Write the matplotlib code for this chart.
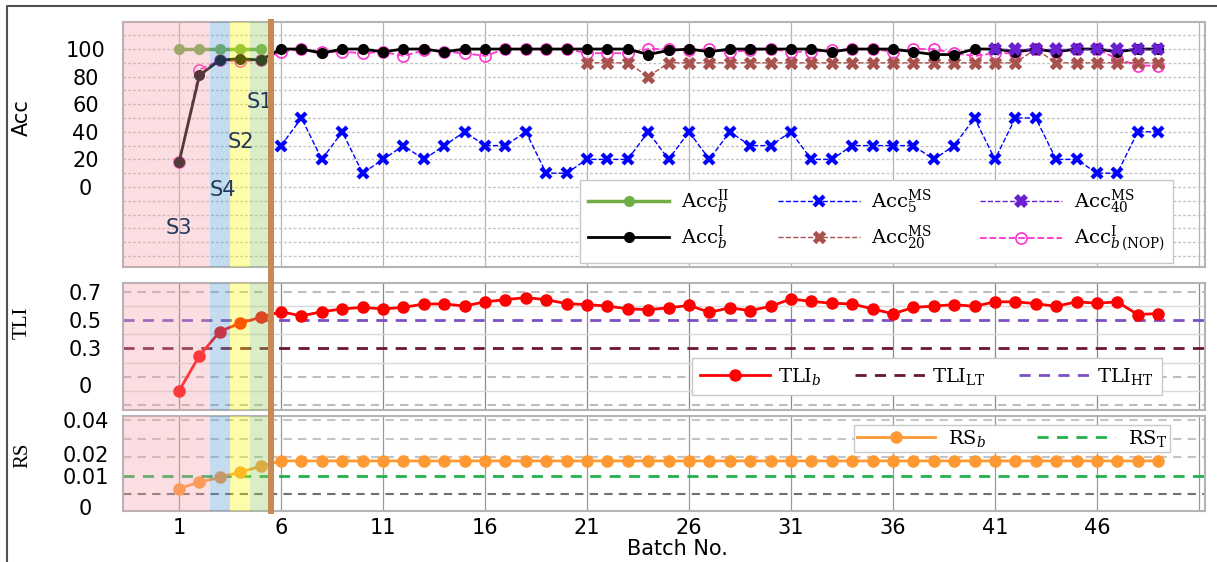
import numpy as np
import matplotlib
matplotlib.use('Agg')
import matplotlib.pyplot as plt
from matplotlib.lines import Line2D

plt.rcParams['font.family'] = 'DejaVu Sans'
plt.rcParams['mathtext.fontset'] = 'dejavuserif'

# ---------------- data ----------------
batch = np.arange(1, 50)                     # batches 1..49

acc_II = [100, 100, 100, 100, 100]           # batches 1..5
acc_I = [18, 81, 92, 93, 92, 100, 100, 97, 100, 100,
         98, 100, 100, 98, 100, 100, 100, 100, 100, 100,
         100, 100, 100, 96, 99, 100, 98, 100, 100, 100,
         100, 100, 98, 100, 100, 100, 98, 96, 96, 100,
         100, 98, 100, 98, 100, 100, 98, 100, 100]
acc_nop = [18, 85, 92, 91, 92, 98, 100, 98, 98, 97,
           98, 95, 99, 98, 97, 95, 100, 100, 100, 100,
           97, 97, 97, 100, 100, 99, 100, 98, 99, 100,
           98, 98, 99, 100, 100, 98, 100, 100, 97, 95,
           97, 97, 100, 98, 100, 100, 93, 88, 88]
acc5 = [30, 50, 20, 40, 10, 20, 30, 20, 30, 40,
        30, 30, 40, 10, 10, 20, 20, 20, 40, 20,
        40, 20, 40, 30, 30, 40, 20, 20, 30, 30,
        30, 30, 20, 30, 50, 20, 50, 50, 20, 20,
        10, 10, 40, 40]                       # batches 6..49
acc20 = [90, 90, 90, 80, 90, 90, 90, 90, 90, 90,
         90, 90, 90, 90, 90, 90, 90, 90, 90, 90,
         90, 90, 100, 90, 90, 90, 90, 90, 90]  # batches 21..49
acc40 = [100, 100, 100, 100, 100, 100, 100, 100, 100]  # batches 41..49

tli = [0.0, 0.25, 0.42, 0.48, 0.52, 0.56, 0.53, 0.56, 0.58, 0.59,
       0.58, 0.59, 0.615, 0.615, 0.60, 0.63, 0.645, 0.66, 0.645, 0.617,
       0.61, 0.60, 0.58, 0.575, 0.587, 0.605, 0.556, 0.587, 0.568, 0.598,
       0.65, 0.633, 0.62, 0.615, 0.58, 0.545, 0.59, 0.60, 0.61, 0.598,
       0.63, 0.63, 0.617, 0.598, 0.63, 0.62, 0.63, 0.54, 0.547]
tli_lt = 0.3
tli_ht = 0.5

rs = [0.003, 0.0065, 0.009, 0.012, 0.015] + [0.018] * 44
rs_t = 0.01

stage_names = ['S1', 'S2', 'S4', 'S3']
xtick_vals = [1, 6, 11, 16, 21, 26, 31, 36, 41, 46]

# ---------------- figure / axes ----------------
W, H = 1217, 562
fig = plt.figure(figsize=(W / 100, H / 100), dpi=100)


def box(l, t, r, b):
    return [l / W, 1 - b / H, (r - l) / W, (b - t) / H]


ax1 = fig.add_axes(box(123, 22, 1205, 267))
ax2 = fig.add_axes(box(123, 283, 1205, 410))
ax3 = fig.add_axes(box(123, 416, 1205, 511))

xmin, xmax = -1.75, 51.3
stages = [(xmin, 2.5, '#f6a1a9'), (2.5, 3.5, '#599bd4'),
          (3.5, 4.5, '#f9f90c'), (4.5, 5.5, '#95cc62')]

for ax, vcol in ((ax1, '#b4b4b4'), (ax2, '#8c8c8c'), (ax3, '#9a9a9a')):
    ax.set_xlim(xmin, xmax)
    for x in range(1, 52, 5):
        ax.axvline(x, color=vcol, lw=0.9, zorder=1)
    for a, b, c in stages:
        ax.axvspan(a, b, color=c, alpha=0.35, lw=0, zorder=6)
    for s in ax.spines.values():
        s.set_color('#b4b4b4')
        s.set_linewidth(1.5)
    ax.tick_params(length=0, labelsize=15)
    ax.tick_params(axis='y', pad=27)

ax1.set_xticks([])
ax2.set_xticks([])
ax3.set_xticks(xtick_vals)
ax3.tick_params(axis='x', pad=5)

# ---------------- Acc panel ----------------
ax1.set_ylim(-58, 119.6)
for v in range(-50, 111, 10):
    ax1.axhline(v, color='#c4c4c4', lw=1, ls=(0, (2, 1.5)), zorder=1)

l_II, = ax1.plot(batch[:5], acc_II, color='#70ad47', lw=2.5, marker='o', ms=7,
                 zorder=3, label=r'Acc$_b^{\mathrm{II}}$')
l_nop, = ax1.plot(batch, acc_nop, color='#ff33cc', lw=1.3, ls='--', marker='o',
                  mfc='none', mec='#ff33cc', ms=8, mew=1.2, zorder=2,
                  label=r'Acc$_{b\,\mathrm{(NOP)}}^{\mathrm{I}}$')
l_I, = ax1.plot(batch, acc_I, color='black', lw=2, marker='o', ms=7, zorder=4,
                label=r'Acc$_b^{\mathrm{I}}$')
l_5, = ax1.plot(batch[5:], acc5, color='#0000ff', lw=1, ls='--', marker='x',
                ms=7, mew=3, zorder=3, label=r'Acc$_5^{\mathrm{MS}}$')
l_20, = ax1.plot(batch[20:], acc20, color='#a8524e', lw=1, ls='--', marker='x',
                 ms=7, mew=3.5, zorder=3, label=r'Acc$_{20}^{\mathrm{MS}}$')
l_40, = ax1.plot(batch[40:], acc40, color='#6a1fd0', lw=1, ls='--', marker='x',
                 ms=7, mew=4, zorder=5, label=r'Acc$_{40}^{\mathrm{MS}}$')

ax1.set_yticks([0, 20, 40, 60, 80, 100])
for t in ax1.get_yticklabels():
    t.set_ha('center')
ax1.set_ylabel('Acc', fontsize=15)
ax1.yaxis.set_label_coords(-0.084, 0.61)

for name, bx, by in zip(stage_names, [4.95, 4.04, 3.15, 1.0], [61.6, 32.6, -2.2, -29.7]):
    ax1.text(bx, by, name, fontsize=15, color='#23395b', ha='center', va='center', zorder=8)

leg1 = ax1.legend(handles=[l_II, l_I, l_5, l_20, l_40, l_nop], ncol=3,
                  loc='lower right', bbox_to_anchor=(0.970, 0.016),
                  borderaxespad=0, prop={'family': 'DejaVu Serif', 'size': 14},
                  handlelength=4.2, handletextpad=0.6, columnspacing=2.5,
                  labelspacing=0.4, borderpad=0.4, fancybox=False,
                  framealpha=1, edgecolor='#c8c8c8')
leg1.set_zorder(20)

# ---------------- TLI panel ----------------
ax2.set_ylim(-0.135, 0.763)
for v in [0.7, 0.1, -0.1]:
    ax2.axhline(v, color='#bdbdbd', lw=1.5, ls=(0, (4, 3)), zorder=1)
for v in [0.6, 0.4, 0.2, 0.0]:
    ax2.axhline(v, color='#dadada', lw=1, zorder=1)
h_lt = ax2.axhline(tli_lt, color='#6b1535', lw=2, ls=(0, (4, 3)), zorder=2,
                   label=r'TLI$_{\mathrm{LT}}$')
h_ht = ax2.axhline(tli_ht, color='#7b4fc4', lw=2, ls=(0, (4, 3)), zorder=2,
                   label=r'TLI$_{\mathrm{HT}}$')
l_tli, = ax2.plot(batch, tli, color='#ff0000', lw=2, marker='o', ms=8, zorder=4,
                  label=r'TLI$_b$')
ax2.set_yticks([0.045, 0.3, 0.5, 0.7])
ax2.set_yticklabels(['0', '0.3', '0.5', '0.7'])
for t in ax2.get_yticklabels():
    t.set_ha('center')
ax2.set_ylabel('TLI', fontsize=15, family='Liberation Serif')
ax2.yaxis.set_label_coords(-0.084, 0.685)
leg2 = ax2.legend(handles=[l_tli, h_lt, h_ht], ncol=3, loc='lower right',
                  bbox_to_anchor=(0.960, 0.118), borderaxespad=0,
                  prop={'family': 'DejaVu Serif', 'size': 14},
                  handlelength=3.6, handletextpad=0.4, columnspacing=1.7,
                  borderpad=0.4, fancybox=False, framealpha=1, edgecolor='#c8c8c8')
leg2.set_zorder(20)

# ---------------- RS panel ----------------
ax3.set_ylim(-0.0092, 0.0424)
for v in [0.04, 0.03, 0.02]:
    ax3.axhline(v, color='#c4c4c4', lw=1.5, ls=(0, (4, 3)), zorder=1)
ax3.axhline(0.0, color='#707070', lw=1.5, ls=(0, (4, 3)), zorder=1)
h_rst = ax3.axhline(rs_t, color='#22b14c', lw=2, ls=(0, (4, 3)), zorder=2,
                    label=r'RS$_{\mathrm{T}}$')
l_rs, = ax3.plot(batch, rs, color='#ff9933', lw=2, marker='o', ms=8, zorder=4,
                 label=r'RS$_b$')
ax3.set_yticks([-0.007, 0.01, 0.022, 0.04])
ax3.set_yticklabels(['0', '0.01', '0.02', '0.04'])
for t in ax3.get_yticklabels():
    t.set_ha('center')
ax3.set_ylabel('RS', fontsize=15, family='Liberation Serif')
ax3.yaxis.set_label_coords(-0.084, 0.59)
leg3 = ax3.legend(handles=[l_rs, h_rst], ncol=2, loc='upper right',
                  bbox_to_anchor=(0.968, 0.905), borderaxespad=0,
                  prop={'family': 'DejaVu Serif', 'size': 14},
                  handlelength=4.0, handletextpad=0.7, columnspacing=2.6,
                  borderpad=0.15, fancybox=False, framealpha=1, edgecolor='#c8c8c8')
leg3.set_zorder(20)

fig.text(677 / W, 1 - 549 / H, 'Batch No.', ha='center', va='center', fontsize=15)

# brown divider through all three panels
xpix = ax1.transData.transform((5.5, 0))[0]
fig.add_artist(Line2D([xpix / W, xpix / W], [1 - 511 / H, 1 - 22 / H],
                      transform=fig.transFigure, color='#c68a52', lw=4.3, zorder=10))

# outer frame (left and top)
fig.add_artist(Line2D([7 / W, 7 / W, 1], [0, 1 - 5.5 / H, 1 - 5.5 / H],
                      transform=fig.transFigure, color='#505050', lw=1.5))

fig.savefig('out.png', dpi=100)
